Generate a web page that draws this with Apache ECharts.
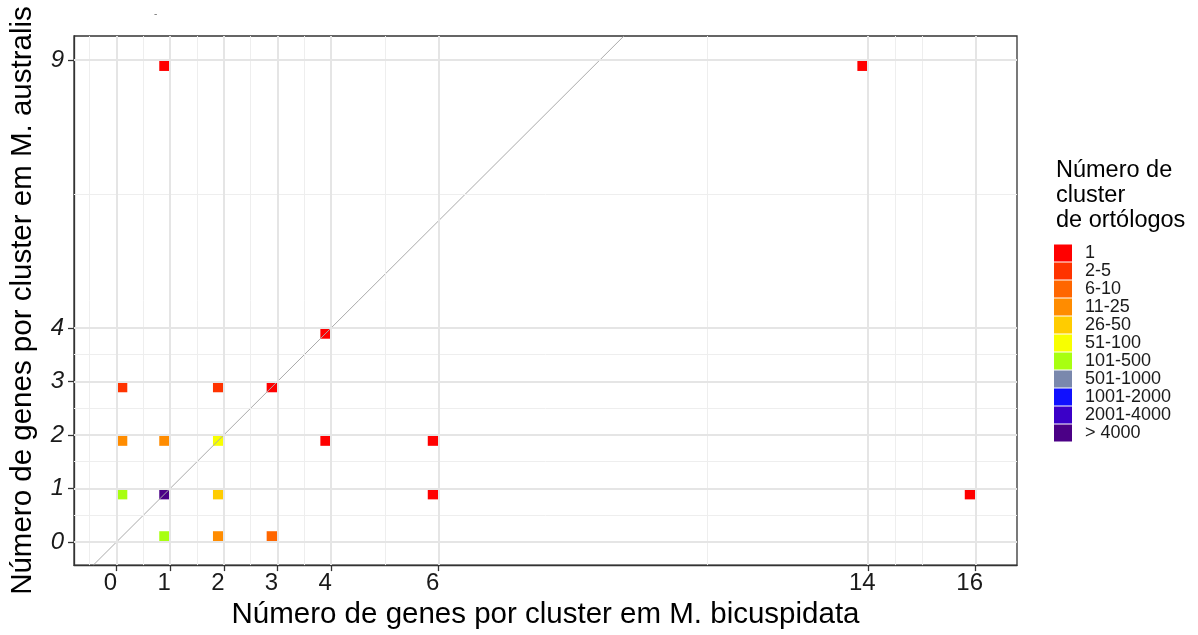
<!DOCTYPE html>
<html>
<head>
<meta charset="utf-8">
<script src="https://cdn.jsdelivr.net/npm/echarts@6/dist/echarts.min.js"></script>
<style>
  html, body { margin: 0; padding: 0; background: #ffffff; }
  #chart { width: 1198px; height: 635px; }
</style>
</head>
<body>
<div id="chart"></div>
<script>
// Genes per orthologue cluster in each species, one entry per (x, y) combination
const bicuspidata = [0, 0, 0, 1, 1, 1, 1, 2, 2, 2, 2, 3, 3, 4, 4, 6, 6, 14, 16];
const australis   = [3, 2, 1, 9, 2, 1, 0, 3, 2, 1, 0, 3, 0, 4, 2, 2, 1, 9, 1];
// Number of orthologue clusters sharing that combination (legend class)
const clusterClass = ['2-5', '11-25', '101-500', '1', '11-25', '> 4000', '101-500',
                      '2-5', '51-100', '26-50', '11-25', '1', '6-10', '1', '1',
                      '1', '1', '1', '1'];

const classLabels = ['1', '2-5', '6-10', '11-25', '26-50', '51-100', '101-500',
                     '501-1000', '1001-2000', '2001-4000', '> 4000'];
const classColors = ['#FF0000', '#FF3300', '#FF6600', '#FF8C00', '#FFCC00', '#F8FF00',
                     '#A8FF10', '#7A88AD', '#1010FF', '#3B00C8', '#4B0086'];

// Axis breaks (tick labels) and the lighter in-between grid lines
const xBreaks = [0, 1, 2, 3, 4, 6, 14, 16];
const yBreaks = [0, 1, 2, 3, 4, 9];
const xMinor  = [-0.5, 0.5, 1.5, 2.5, 3.5, 5, 11, 14.5, 15];
const yMinor  = [0.5, 1.5, 2.5, 3.5, 6.5];

const X_MIN = -0.79, X_MAX = 16.77, Y_MIN = -0.43, Y_MAX = 9.45;

// Points are nudged slightly off the integer grid so overlapping marks stay visible
const nudge = v => (v === 0 ? v + 0.1 : v - 0.1);

const FONT = '"Liberation Sans", Arial, sans-serif';

const points = bicuspidata.map((x, i) => [nudge(x), nudge(australis[i]), classLabels.indexOf(clusterClass[i])]);

const gridLines = [];
xMinor.forEach(v => gridLines.push({ xAxis: v, lineStyle: { color: '#EEEEEE', width: 1, type: 'solid' } }));
yMinor.forEach(v => gridLines.push({ yAxis: v, lineStyle: { color: '#EEEEEE', width: 1, type: 'solid' } }));
xBreaks.forEach(v => gridLines.push({ xAxis: v, lineStyle: { color: '#E5E5E5', width: 2, type: 'solid' } }));
yBreaks.forEach(v => gridLines.push({ yAxis: v, lineStyle: { color: '#E5E5E5', width: 2, type: 'solid' } }));

// y = x reference line across the visible panel
const lo = Math.max(X_MIN, Y_MIN), hi = Math.min(X_MAX, Y_MAX);

const chart = echarts.init(document.getElementById('chart'));
chart.setOption({
  animation: false,
  backgroundColor: '#ffffff',
  title: {
    text: '-', left: 149, top: 4,
    textStyle: { fontSize: 10, color: '#777777', fontWeight: 'normal', fontFamily: FONT }
  },
  grid: {
    left: 72, top: 36, width: 945, height: 531,
    show: true, borderColor: '#333333', borderWidth: 1.3, backgroundColor: 'transparent'
  },
  xAxis: {
    type: 'value', min: X_MIN, max: X_MAX,
    splitLine: { show: false },
    axisLine: { onZero: false, lineStyle: { color: '#333333', width: 1.3 } },
    axisTick: { show: true, length: 6, customValues: xBreaks, lineStyle: { color: '#333333', width: 1.3 } },
    axisLabel: { customValues: xBreaks, fontSize: 24, color: '#1a1a1a', margin: 6,
                 padding: [0, 12, 0, 0], fontFamily: FONT },
    name: 'Número de genes por cluster em M. bicuspidata',
    nameLocation: 'middle', nameGap: 34,
    nameTextStyle: { fontSize: 29.5, color: '#000000', fontFamily: FONT }
  },
  yAxis: {
    type: 'value', min: Y_MIN, max: Y_MAX,
    splitLine: { show: false },
    axisLine: { onZero: false, lineStyle: { color: '#333333', width: 1.3 } },
    axisTick: { show: true, length: 6, customValues: yBreaks, lineStyle: { color: '#333333', width: 1.3 } },
    axisLabel: { customValues: yBreaks, fontSize: 24, fontStyle: 'italic', color: '#1a1a1a', margin: 10, fontFamily: FONT },
    name: 'Número de genes por cluster em M. australis',
    nameLocation: 'middle', nameGap: 36,
    nameTextStyle: { fontSize: 29.5, color: '#000000', fontFamily: FONT }
  },
  visualMap: {
    type: 'piecewise',
    seriesIndex: 1,
    dimension: 2,
    left: 1054, top: 244,
    padding: 0,
    orient: 'vertical',
    inverse: true,
    align: 'left',
    itemWidth: 18, itemHeight: 17, itemGap: 0,
    itemSymbol: 'rect',
    textGap: 13,
    selectedMode: false,
    hoverLink: false,
    pieces: classLabels.map((lab, i) => ({ value: i, label: lab, color: classColors[i] })),
    textStyle: { fontSize: 18, lineHeight: 17, color: '#1a1a1a', fontFamily: FONT }
  },
  graphic: [{
    type: 'text', left: 1056, top: 158,
    style: {
      text: 'Número de\ncluster\nde ortólogos',
      font: '23.5px ' + FONT, fill: '#000000', lineHeight: 25
    }
  }],
  series: [
    {
      type: 'line', data: [], z: 1, silent: true,
      markLine: { silent: true, symbol: 'none', label: { show: false }, animation: false, data: gridLines }
    },
    {
      type: 'scatter', data: points, symbol: 'rect', symbolSize: 11, z: 3,
      itemStyle: { opacity: 1 }
    },
    {
      type: 'line', data: [[lo, lo], [hi, hi]], z: 4, silent: true,
      symbol: 'none', lineStyle: { color: '#AAAAAA', width: 1 }
    }
  ]
});
</script>
</body>
</html>
